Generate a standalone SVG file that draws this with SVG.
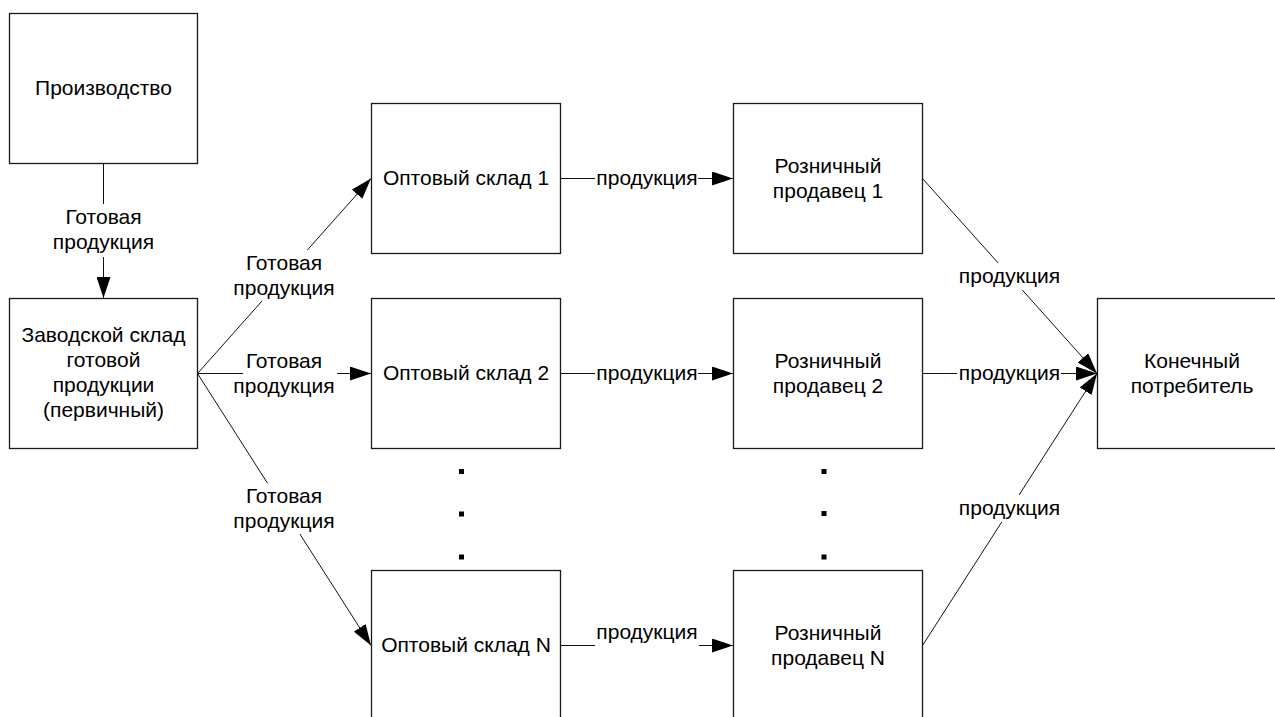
<svg xmlns="http://www.w3.org/2000/svg" width="1275" height="717" viewBox="0 0 1275 717">
  <defs>
    <marker id="arr" markerUnits="userSpaceOnUse" markerWidth="22" markerHeight="14" refX="21" refY="7" orient="auto">
      <path d="M0,0 L21,7 L0,14 z" fill="#000"/>
    </marker>
    <style>
      .box { fill: #fff; stroke: #1a1a1a; stroke-width: 1.3; }
      .t { font-family: "Liberation Sans", Arial, sans-serif; font-size: 21px; fill: #000; text-anchor: middle; }
      .ln { stroke: #111; stroke-width: 1; fill: none; marker-end: url(#arr); }
      .bg { fill: #fff; stroke: none; }
    </style>
  </defs>
  <rect width="1275" height="717" fill="#fff"/>

  <g id="connectors">
    <line class="ln" x1="103.5" y1="163.5" x2="103.5" y2="298"/>
    <line class="ln" x1="197.5" y1="373.5" x2="371" y2="178.5"/>
    <line class="ln" x1="197.5" y1="373.5" x2="371" y2="373.5"/>
    <line class="ln" x1="197.5" y1="373.5" x2="371" y2="645.5"/>
    <line class="ln" x1="560.5" y1="178.5" x2="733" y2="178.5"/>
    <line class="ln" x1="560.5" y1="373.5" x2="733" y2="373.5"/>
    <line class="ln" x1="560.5" y1="645.5" x2="733" y2="645.5"/>
    <line class="ln" x1="922.5" y1="178.5" x2="1097" y2="373.5"/>
    <line class="ln" x1="922.5" y1="373.5" x2="1097" y2="373.5"/>
    <line class="ln" x1="922.5" y1="645.5" x2="1097" y2="373.5"/>

    <rect class="bg" x="56" y="204" width="95" height="53"/>
    <rect class="bg" x="237" y="250" width="94" height="51"/>
    <rect class="bg" x="243" y="348" width="94" height="51"/>
    <rect class="bg" x="237" y="483" width="94" height="51"/>
    <rect class="bg" x="595" y="166" width="103" height="24"/>
    <rect class="bg" x="595" y="361" width="103" height="24"/>
    <rect class="bg" x="595" y="620" width="104" height="28"/>
    <rect class="bg" x="958" y="263" width="103" height="27"/>
    <rect class="bg" x="957" y="361" width="104" height="24"/>
    <rect class="bg" x="958" y="495" width="103" height="27"/>

    <text class="t" x="103.5" y="224">Готовая</text>
    <text class="t" x="103.5" y="249">продукция</text>
    <text class="t" x="284" y="270">Готовая</text>
    <text class="t" x="284" y="295">продукция</text>
    <text class="t" x="284" y="368">Готовая</text>
    <text class="t" x="284" y="393">продукция</text>
    <text class="t" x="284" y="503">Готовая</text>
    <text class="t" x="284" y="528">продукция</text>
    <text class="t" x="647" y="184.5">продукция</text>
    <text class="t" x="647" y="380">продукция</text>
    <text class="t" x="647" y="639">продукция</text>
    <text class="t" x="1009.5" y="283">продукция</text>
    <text class="t" x="1009.5" y="380">продукция</text>
    <text class="t" x="1009.5" y="515">продукция</text>
  </g>

  <g id="production">
    <rect class="box" x="9.5" y="13.5" width="188" height="150"/>
    <text class="t" x="103.5" y="94.5">Производство</text>
  </g>
  <g id="factory-warehouse">
    <rect class="box" x="9.5" y="298.5" width="188" height="150"/>
    <text class="t" x="103.5" y="342">Заводской склад</text>
    <text class="t" x="103.5" y="367">готовой</text>
    <text class="t" x="103.5" y="392">продукции</text>
    <text class="t" x="103.5" y="417">(первичный)</text>
  </g>
  <g id="wholesale-1">
    <rect class="box" x="371.5" y="103.5" width="189" height="150"/>
    <text class="t" x="466" y="184.5">Оптовый склад 1</text>
  </g>
  <g id="wholesale-2">
    <rect class="box" x="371.5" y="298.5" width="189" height="150"/>
    <text class="t" x="466" y="380">Оптовый склад 2</text>
  </g>
  <g id="wholesale-n">
    <rect class="box" x="371.5" y="570.5" width="189" height="150"/>
    <text class="t" x="466" y="652">Оптовый склад N</text>
  </g>
  <g id="retail-1">
    <rect class="box" x="733.5" y="103.5" width="189" height="150"/>
    <text class="t" x="828" y="172.5">Розничный</text>
    <text class="t" x="828" y="197.5">продавец 1</text>
  </g>
  <g id="retail-2">
    <rect class="box" x="733.5" y="298.5" width="189" height="150"/>
    <text class="t" x="828" y="368">Розничный</text>
    <text class="t" x="828" y="393">продавец 2</text>
  </g>
  <g id="retail-n">
    <rect class="box" x="733.5" y="570.5" width="189" height="150"/>
    <text class="t" x="828" y="639.5">Розничный</text>
    <text class="t" x="828" y="664.5">продавец N</text>
  </g>
  <g id="consumer">
    <rect class="box" x="1097.5" y="298.5" width="189" height="150"/>
    <text class="t" x="1192" y="368">Конечный</text>
    <text class="t" x="1192" y="393">потребитель</text>
  </g>

  <g id="ellipsis" fill="#000">
    <rect x="459" y="469" width="5" height="5"/>
    <rect x="459" y="511.5" width="5" height="5"/>
    <rect x="459" y="554.5" width="5" height="5"/>
    <rect x="821.5" y="469" width="5" height="5"/>
    <rect x="821.5" y="511" width="5" height="5"/>
    <rect x="821.5" y="554.5" width="5" height="5"/>
  </g>
</svg>
